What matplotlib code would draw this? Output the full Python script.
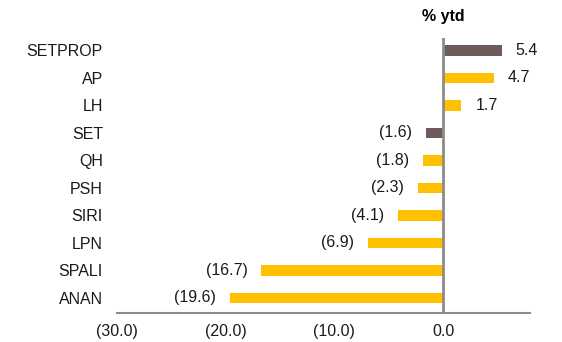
import matplotlib

matplotlib.use("Agg")
import matplotlib.pyplot as plt

plt.rcParams["font.family"] = ["Liberation Sans", "DejaVu Sans"]

categories = ["SETPROP", "AP", "LH", "SET", "QH", "PSH", "SIRI", "LPN", "SPALI", "ANAN"]
values = [5.4, 4.7, 1.7, -1.6, -1.8, -2.3, -4.1, -6.9, -16.7, -19.6]
highlight = ["SETPROP", "SET"]
xticks = [-30, -20, -10, 0]

YELLOW = "#FFC000"
DARK = "#6B5B5A"
GREY = "#8C8C8C"
FS = 11.5


def fmt(v):
    return f"({abs(v):.1f})" if v < 0 else f"{v:.1f}"


fig = plt.figure(figsize=(5.62, 3.42), dpi=100)
ax = fig.add_axes([0.208, 0.085, 0.735, 0.804])

ypos = list(range(len(categories)))
colors = [DARK if c in highlight else YELLOW for c in categories]
ax.barh(ypos, values, height=0.38, color=colors, zorder=2)

for y, v in zip(ypos, values):
    ax.annotate(fmt(v), (v, y), xytext=(10 if v > 0 else -10, 0),
                textcoords="offset points", va="center",
                ha="left" if v > 0 else "right", fontsize=FS, color="#1a1a1a")

ax.axvline(0, color=GREY, lw=2, zorder=3)
ax.set_xlim(-30, 8)
ax.set_ylim(len(categories) - 0.45, -0.45)
ax.set_yticks(ypos)
ax.set_yticklabels(categories, fontsize=FS)
ax.set_xticks(xticks)
ax.set_xticklabels([fmt(t) for t in xticks], fontsize=FS)
ax.tick_params(axis="both", length=0, colors="#1a1a1a")
ax.tick_params(axis="y", pad=10)
ax.tick_params(axis="x", pad=8)

for side in ["top", "right", "left"]:
    ax.spines[side].set_visible(False)
ax.spines["bottom"].set_color(GREY)
ax.spines["bottom"].set_linewidth(1.5)

ax.text(0, 1.05, "% ytd", transform=ax.get_xaxis_transform(), ha="center",
        va="bottom", fontsize=FS, fontweight="bold")

fig.savefig("out.png", dpi=100)
plt.close(fig)
